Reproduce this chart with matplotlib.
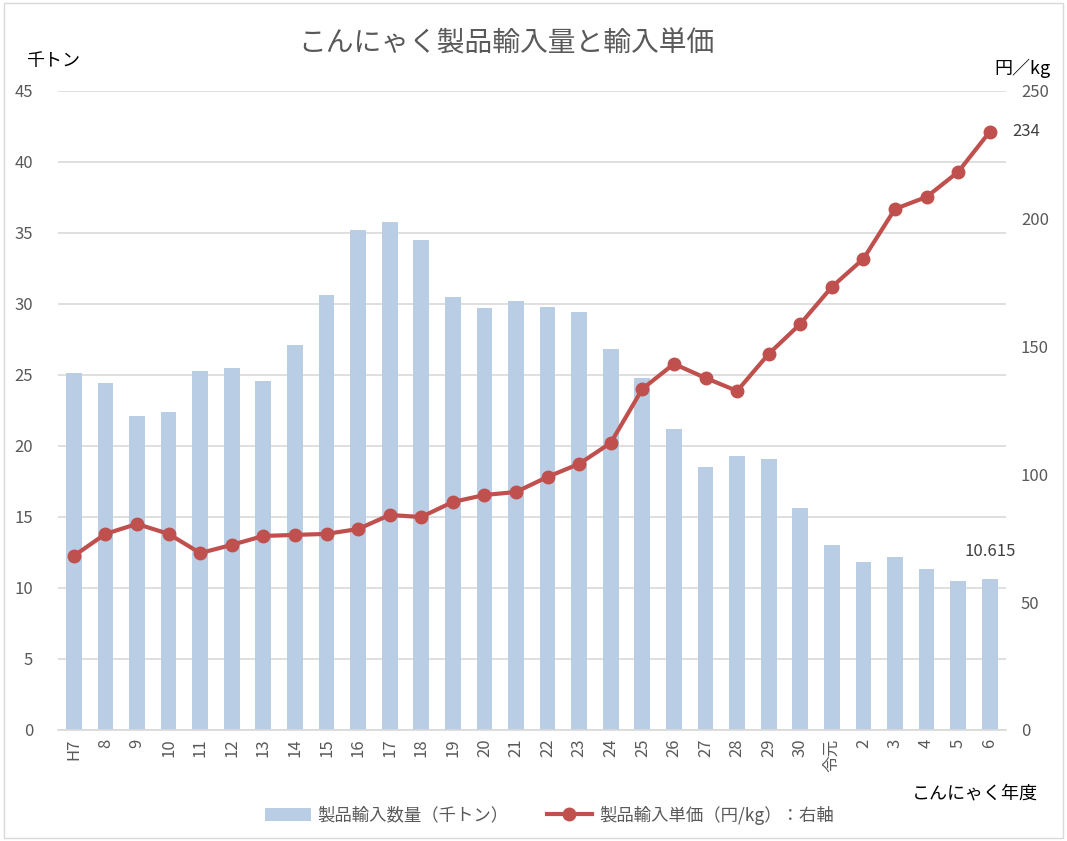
import matplotlib
matplotlib.use("Agg")
import matplotlib.pyplot as plt
from matplotlib.patches import Rectangle
import numpy as np

plt.rcParams["font.family"] = ["Noto Sans CJK JP", "DejaVu Sans"]

# data
years = ["H7", "8", "9", "10", "11", "12", "13", "14", "15", "16", "17", "18",
         "19", "20", "21", "22", "23", "24", "25", "26", "27", "28", "29", "30",
         "令元", "2", "3", "4", "5", "6"]
volume = [25.1, 24.4, 22.1, 22.4, 25.3, 25.5, 24.6, 27.1, 30.6, 35.2, 35.8, 34.5,
          30.5, 29.7, 30.2, 29.8, 29.4, 26.8, 24.8, 21.2, 18.5, 19.3, 19.1, 15.6,
          13.0, 11.8, 12.2, 11.3, 10.5, 10.615]
price = [68.1, 76.7, 80.6, 76.7, 69.2, 72.4, 75.9, 76.3, 76.7, 78.6, 84.1, 83.3,
         89.2, 91.9, 93.1, 99.0, 104.1, 112.3, 133.4, 143.2, 137.7, 132.6, 147.1, 158.8,
         173.3, 184.3, 203.8, 208.5, 218.3, 234]

bar_col = "#B9CDE5"
line_col = "#C0504D"
txt_col = "#595959"

fig = plt.figure(figsize=(10.67, 8.41), dpi=100)
ax = fig.add_axes([0.0544, 0.132, 0.888, 0.76])
ax2 = ax.twinx()

x = np.arange(len(years))
ax.bar(x, volume, width=0.5, color=bar_col, zorder=2, label="製品輸入数量（千トン）")
ax2.plot(x, price, color=line_col, lw=3, marker="o", ms=9, zorder=3,
         label="製品輸入単価（円/kg）：右軸")

ax.set_xlim(-0.5, len(years) - 0.5)
ax.set_ylim(0, 45)
ax.set_yticks(range(0, 46, 5))
ax2.set_ylim(0, 250)
ax2.set_yticks(range(0, 251, 50))
ax.grid(axis="y", color="#D9D9D9", lw=1.2, zorder=0)
ax.set_axisbelow(True)

for a in (ax, ax2):
    for s in a.spines.values():
        s.set_visible(False)
ax.spines["bottom"].set_visible(True)
ax.spines["bottom"].set_color("#D9D9D9")
ax.spines["bottom"].set_linewidth(1.2)

ax.set_xticks(x)
ax.set_xticklabels(years, rotation=90, fontsize=12, color=txt_col)
ax.tick_params(axis="x", length=0, pad=6)
ax.tick_params(axis="y", length=0, labelsize=12, labelcolor=txt_col, pad=18)
ax2.tick_params(axis="y", length=0, labelsize=12, labelcolor=txt_col, pad=11)

# data labels
ax2.annotate(f"{price[-1]:g}", (x[-1], price[-1]), xytext=(16, 0),
             textcoords="offset points", va="center", ha="left", fontsize=12, color="#404040")
ax.annotate(f"{volume[-1]:g}", (x[-1], volume[-1]), xytext=(0, 14),
            textcoords="offset points", va="bottom", ha="center", fontsize=12, color="#404040")

fig.text(0.475, 0.948, "こんにゃく製品輸入量と輸入単価", ha="center", va="center",
         fontsize=20, color=txt_col)
fig.text(0.024, 0.928, "千トン", ha="left", va="center", fontsize=13, color="black")
fig.text(0.985, 0.919, "円／kg", ha="right", va="center", fontsize=13, color="black")
fig.text(0.973, 0.057, "こんにゃく年度", ha="right", va="center", fontsize=13, color="black")

h1, l1 = ax.get_legend_handles_labels()
h2, l2 = ax2.get_legend_handles_labels()
fig.legend(h1 + h2, l1 + l2, loc="center", bbox_to_anchor=(0.515, 0.031), ncol=2,
           frameon=False, fontsize=12.5, labelcolor=txt_col, handlelength=2.6,
           handletextpad=0.4, columnspacing=2.2)

fig.patches.append(Rectangle((0.004, 0.003), 0.992, 0.994, transform=fig.transFigure,
                             fill=False, edgecolor="#D9D9D9", lw=1))

fig.savefig("out.png", dpi=100)
